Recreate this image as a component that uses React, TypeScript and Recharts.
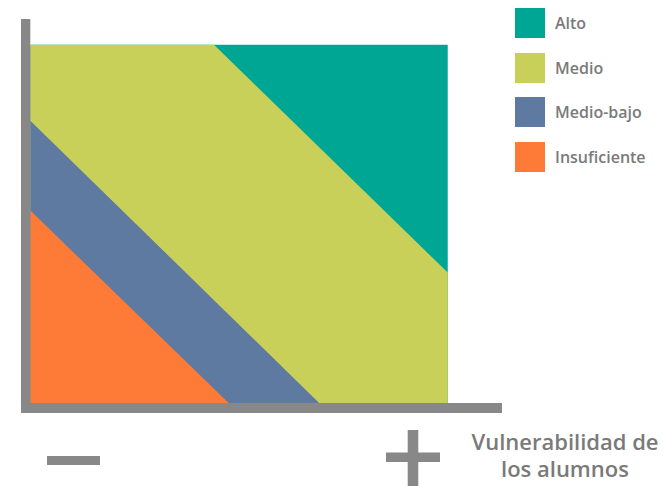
import React from 'react';
import { ComposedChart, Area, XAxis, YAxis, ReferenceArea, Legend } from 'recharts';

// Breakpoints along the horizontal axis (vulnerability, 0–100)
const xBreaks = [0, 44, 47.5, 69.2, 100];
// Upper boundary of each level at each breakpoint (0–100)
const altoTop = [100, 100, 100, 100, 100];
const medioTop = [100, 100, 96, 71.4, 36.4];
const medioBajoTop = [78.8, 28.7, 24.7, 0, 0];
const insuficienteTop = [53.7, 4, 0, 0, 0];

const seriesNames = ['Alto', 'Medio', 'Medio-bajo', 'Insuficiente'];
const seriesKeys = ['alto', 'medio', 'medioBajo', 'insuficiente'];
const seriesColors = ['#00a694', '#c8d05a', '#5e7aa1', '#fd7b37'];

const axisLabelLines = ['Vulnerabilidad de', 'los alumnos'];

const data = xBreaks.map((x, i) => ({
  x,
  alto: altoTop[i],
  medio: medioTop[i],
  medioBajo: medioBajoTop[i],
  insuficiente: insuficienteTop[i],
}));

const GRAY = '#888888';
const TEXT = '#7a7a7a';
const FONT = '"Open Sans", sans-serif';

const renderLegend = () => (
  <div style={{ display: 'flex', flexDirection: 'column', gap: 14.5 }}>
    {seriesNames.map((name, i) => (
      <div key={name} style={{ display: 'flex', alignItems: 'center', height: 30 }}>
        <div style={{ width: 30, height: 30, background: seriesColors[i] }} />
        <span
          style={{
            marginLeft: 10,
            fontFamily: FONT,
            fontWeight: 600,
            fontSize: 16,
            color: TEXT,
            lineHeight: '30px',
          }}
        >
          {name}
        </span>
      </div>
    ))}
  </div>
);

export default function App() {
  return (
    <div style={{ position: 'absolute', left: 0, top: 0, width: 670, height: 486, background: '#fff' }}>
      <ComposedChart
        width={670}
        height={486}
        data={data}
        margin={{ top: 19, left: 21, right: 168, bottom: 73 }}
      >
        <XAxis type="number" dataKey="x" domain={[-2.23, 113]} hide allowDataOverflow />
        <YAxis type="number" domain={[-2.79, 107.17]} hide allowDataOverflow />
        {seriesKeys.map((k, i) => (
          <Area
            key={k}
            type="linear"
            dataKey={k}
            name={seriesNames[i]}
            fill={seriesColors[i]}
            fillOpacity={1}
            stroke="none"
            baseValue={0}
            isAnimationActive={false}
            dot={false}
            activeDot={false}
          />
        ))}
        <ReferenceArea x1={-2.23} x2={0} y1={-2.79} y2={107.17} fill={GRAY} fillOpacity={1} stroke="none" />
        <ReferenceArea x1={-2.23} x2={113} y1={-2.79} y2={0} fill={GRAY} fillOpacity={1} stroke="none" />
        <Legend
          layout="vertical"
          align="center"
          verticalAlign="middle"
          wrapperStyle={{ position: 'absolute', left: 515, top: 8, width: 150, height: 170 }}
          content={renderLegend}
        />
      </ComposedChart>
      <svg
        width={670}
        height={486}
        style={{ position: 'absolute', left: 0, top: 0, pointerEvents: 'none' }}
      >
        <rect x={47} y={456} width={53} height={9} fill={GRAY} />
        <rect x={386} y={452.5} width={54} height={9.5} fill={GRAY} />
        <rect x={407.7} y={430} width={10.6} height={56} fill={GRAY} />
        <text x={565} y={449.5} textAnchor="middle" fontFamily={FONT} fontWeight={600} fontSize={22} fill={TEXT}>
          {axisLabelLines[0]}
        </text>
        <text x={565} y={477} textAnchor="middle" fontFamily={FONT} fontWeight={600} fontSize={22} fill={TEXT}>
          {axisLabelLines[1]}
        </text>
      </svg>
    </div>
  );
}
